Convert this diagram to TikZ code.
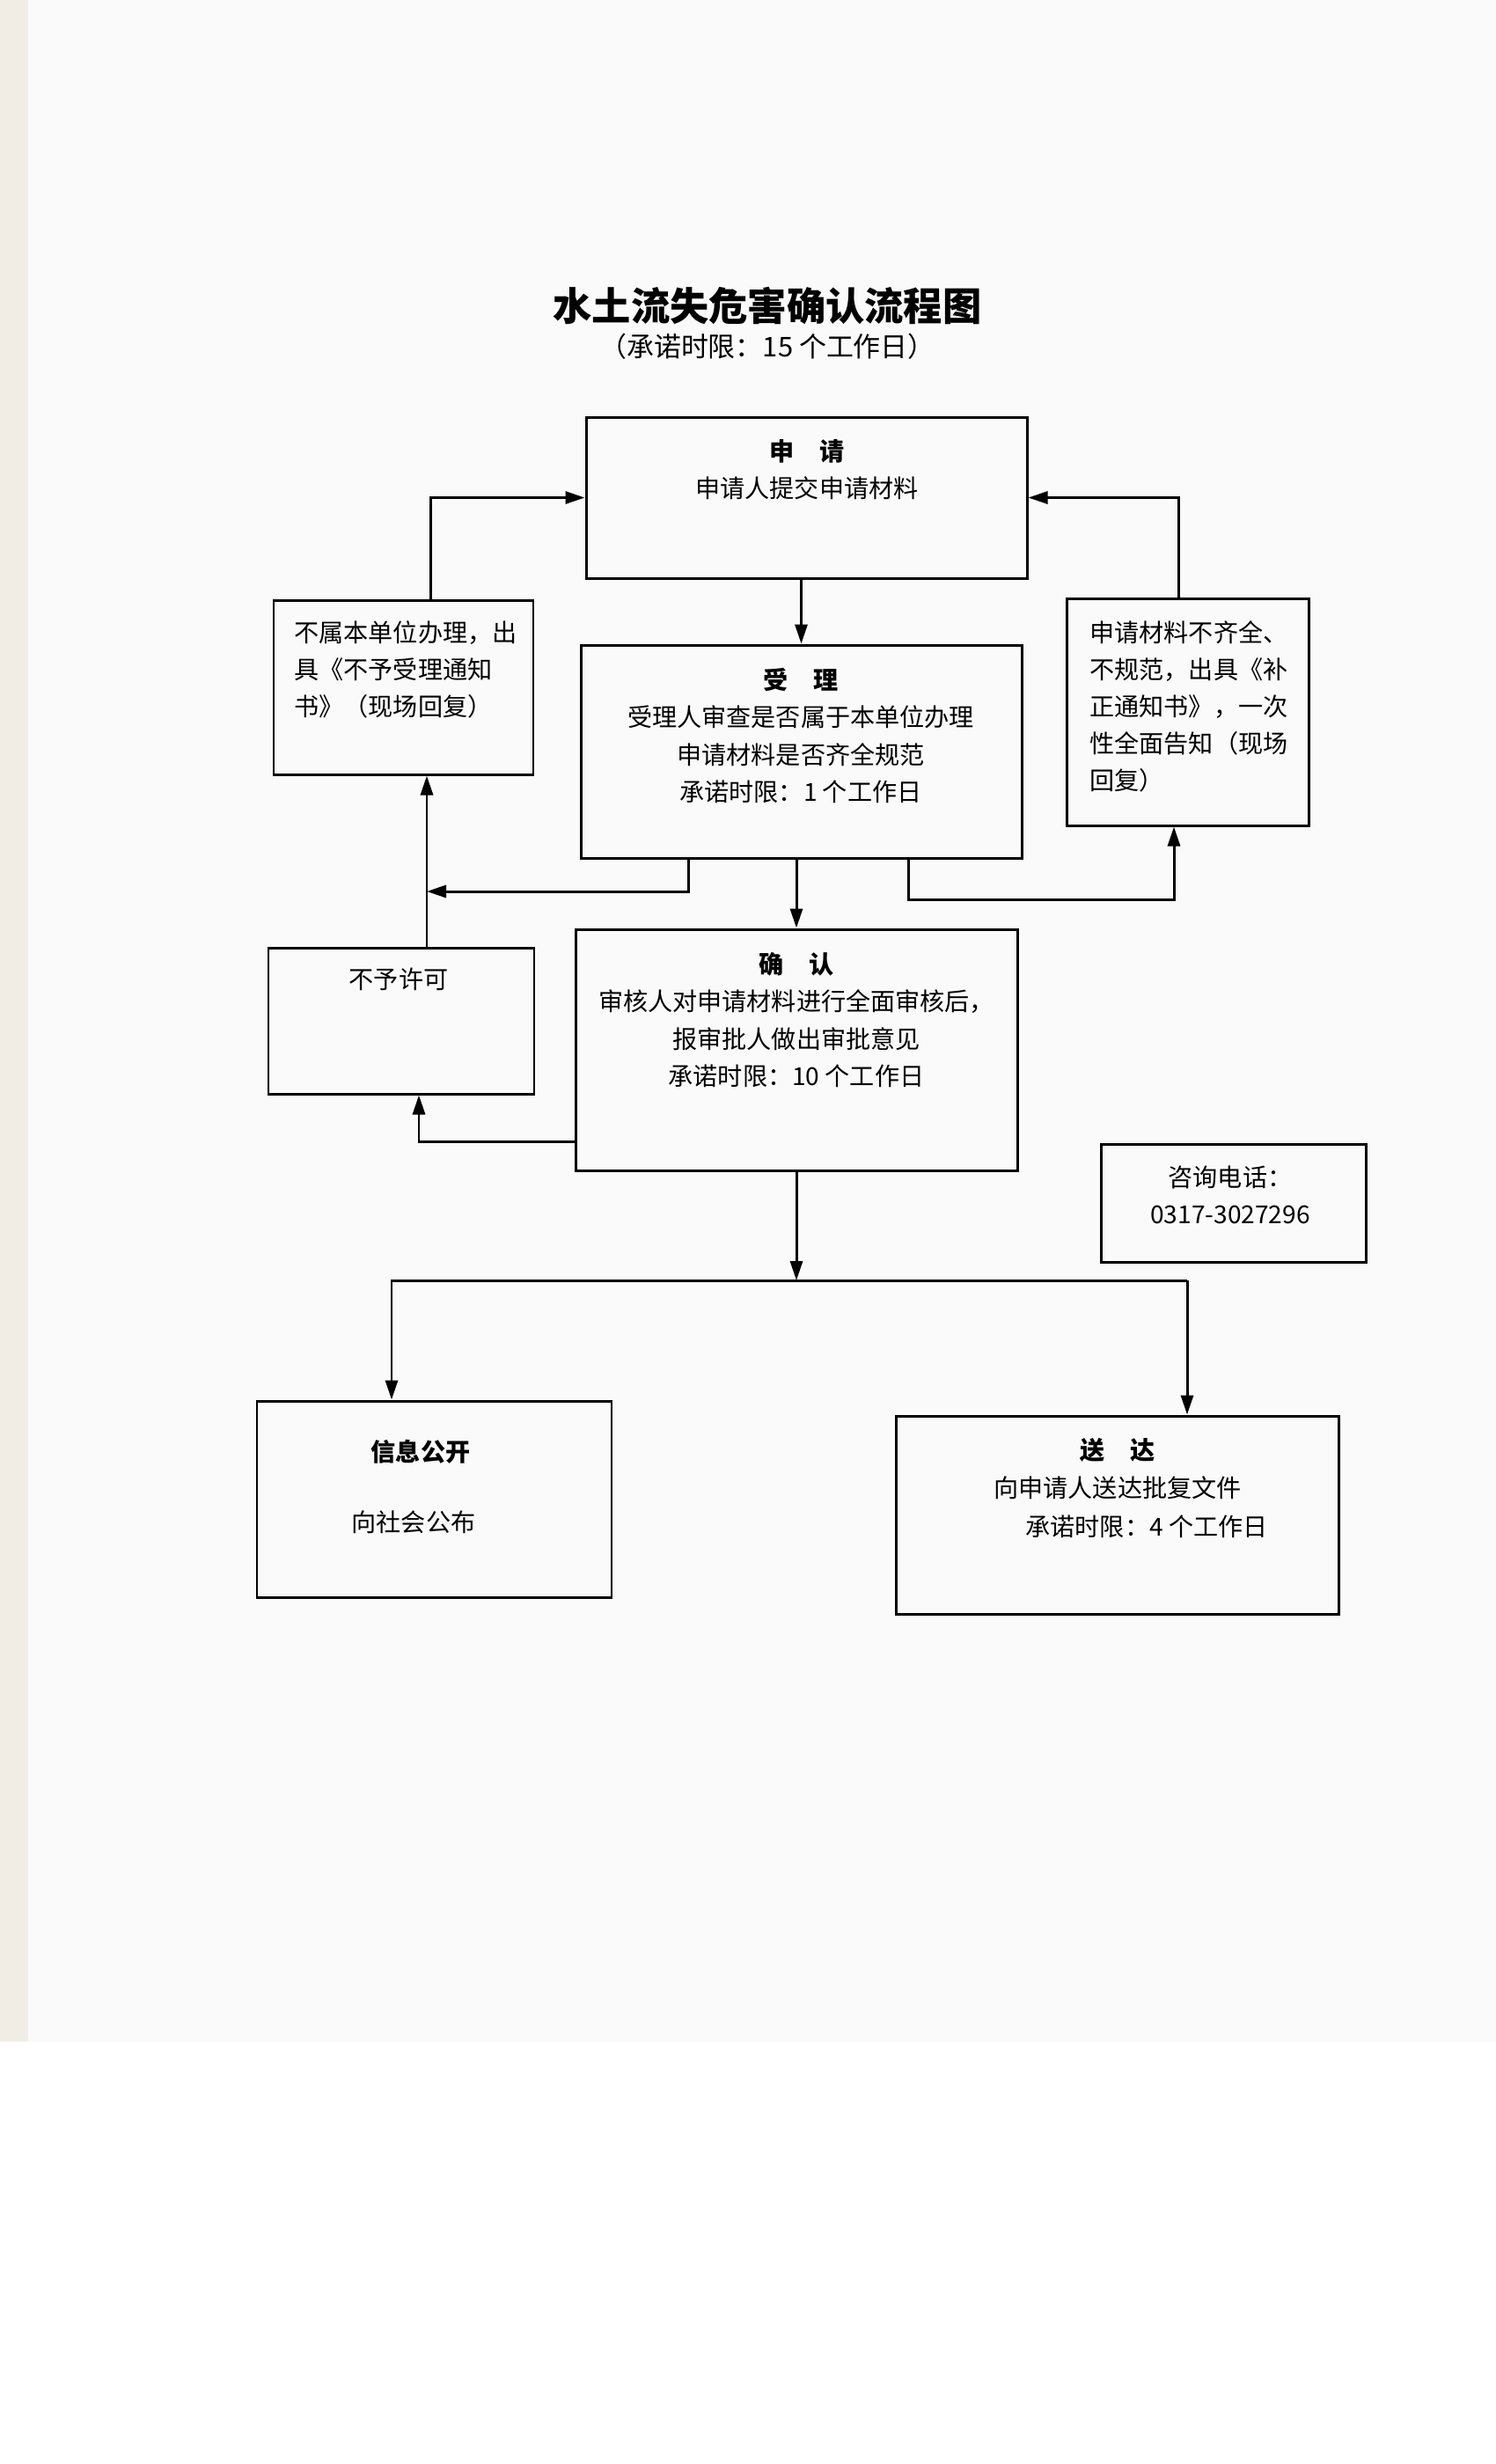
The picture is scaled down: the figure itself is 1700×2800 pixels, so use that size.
\documentclass[tikz,border=0pt]{standalone}
\usepackage{fontspec}
\setmainfont{Noto Sans CJK SC}
\usetikzlibrary{arrows.meta,calc}
\definecolor{scanedge}{RGB}{242,237,228}
\definecolor{scanpage}{RGB}{250,250,251}
\tikzset{
  box/.style={draw,rectangle,inner sep=0pt},
  txt/.style={font=\fontsize{8pt}{12pt}\selectfont,inner sep=0pt},
}
\begin{document}
\begin{tikzpicture}[x=0.1mm,y=-0.1mm,line width=0.85pt,>={Triangle[length=2.2mm,width=1.4mm]}]
		\useasboundingbox (0,0) rectangle (1700,2800);
		\fill[scanedge] (0,0) rectangle (32,2320);
		\fill[scanpage] (32,0) rectangle (1700,2320);
		% title
		\node[txt,font=\fontsize{12.6pt}{15pt}\selectfont\bfseries] (title) at (872,347) {水土流失危害确认流程图};
		\node[txt,font=\fontsize{8.8pt}{11pt}\selectfont] (sub) at (872,394) {（承诺时限：15 个工作日）};
		% boxes
		\node[box,minimum width=50.1mm,minimum height=18.3mm] (sq) at (916.5,565.5) {};
		\node[box,minimum width=50.1mm,minimum height=24.2mm] (sl) at (910.5,854) {};
		\node[box,minimum width=50.2mm,minimum height=27.4mm] (qr) at (905,1193) {};
		\node[box,minimum width=29.5mm,minimum height=19.8mm] (bs) at (458.5,781) {};
		\node[box,minimum width=27.5mm,minimum height=25.8mm] (bq) at (1349.5,809) {};
		\node[box,minimum width=30.2mm,minimum height=16.6mm] (by) at (456,1160) {};
		\node[box,minimum width=30.1mm,minimum height=13.4mm] (zx) at (1401.5,1367) {};
		\node[box,minimum width=40.3mm,minimum height=22.3mm] (gk) at (493.5,1703.5) {};
		\node[box,minimum width=50.3mm,minimum height=22.5mm] (sd) at (1269.5,1721.5) {};
		% texts
		\node[txt,align=center] (sqt) at (917,534) {{\bfseries 申\hspace{1em}请}\\申请人提交申请材料};
		\node[txt,align=center] (slt) at (910,836) {{\bfseries 受\hspace{1em}理}\\受理人审查是否属于本单位办理\\申请材料是否齐全规范\\承诺时限：1 个工作日};
		\node[txt,align=center] (qrt) at (905,1159) {{\bfseries 确\hspace{1em}认}\\审核人对申请材料进行全面审核后，\\报审批人做出审批意见\\承诺时限：10 个工作日};
		\node[txt,align=left,anchor=west] (bst) at (333,761) {不属本单位办理，出\\具《不予受理通知\\书》（现场回复）};
		\node[txt,align=left,anchor=west] (bqt) at (1237,803) {申请材料不齐全、\\不规范，出具《补\\正通知书》，一次\\性全面告知（现场\\回复）};
		\node[txt] (byt) at (453,1113) {不予许可};
		\node[txt,align=center] (zxt) at (1398,1358) {咨询电话：\\0317-3027296};
		\node[txt,font=\fontsize{8pt}{12pt}\selectfont\bfseries] (gkh) at (478,1650) {信息公开};
		\node[txt] (gkt) at (470,1730) {向社会公布};
		\node[txt,align=center] (sdt) at (1270,1669) {{\bfseries 送\hspace{1em}达}\\向申请人送达批复文件};
		\node[txt] (sdl) at (1303,1735) {承诺时限：4 个工作日};
		% connectors
		\coordinate (jl) at (485,1013);
		\coordinate (jr) at (1334,1022);
		\coordinate (jn) at (476,1297);
		\coordinate (bl) at (445,1455);
		\coordinate (br) at (1349,1455);
		\draw[->] (sl.north |- sq.south) -- (sl.north);
		\draw[->] ($(bs.north)+(31,0)$) |- (sq.west);
		\draw[->] ($(bq.north)+(-10,0)$) |- (sq.east);
		\draw[->] ($(sl.south)+(-128,0)$) |- (jl);
		\draw[->] (by.north -| jl) -- (bs.south -| jl);
		\draw[->] ($(sl.south)+(122,0)$) |- (jr) -- (bq.south -| jr);
		\draw[->] (qr.north |- sl.south) -- (qr.north);
		\draw[->] (qr.west |- jn) -| (by.south -| jn);
		\draw[->] (qr.south) -- (qr.south |- bl);
		\draw[->] (br) -- (bl) -- (gk.north -| bl);
		\draw[->] (br) -- (sd.north -| br);
	\end{tikzpicture}
\end{document}
